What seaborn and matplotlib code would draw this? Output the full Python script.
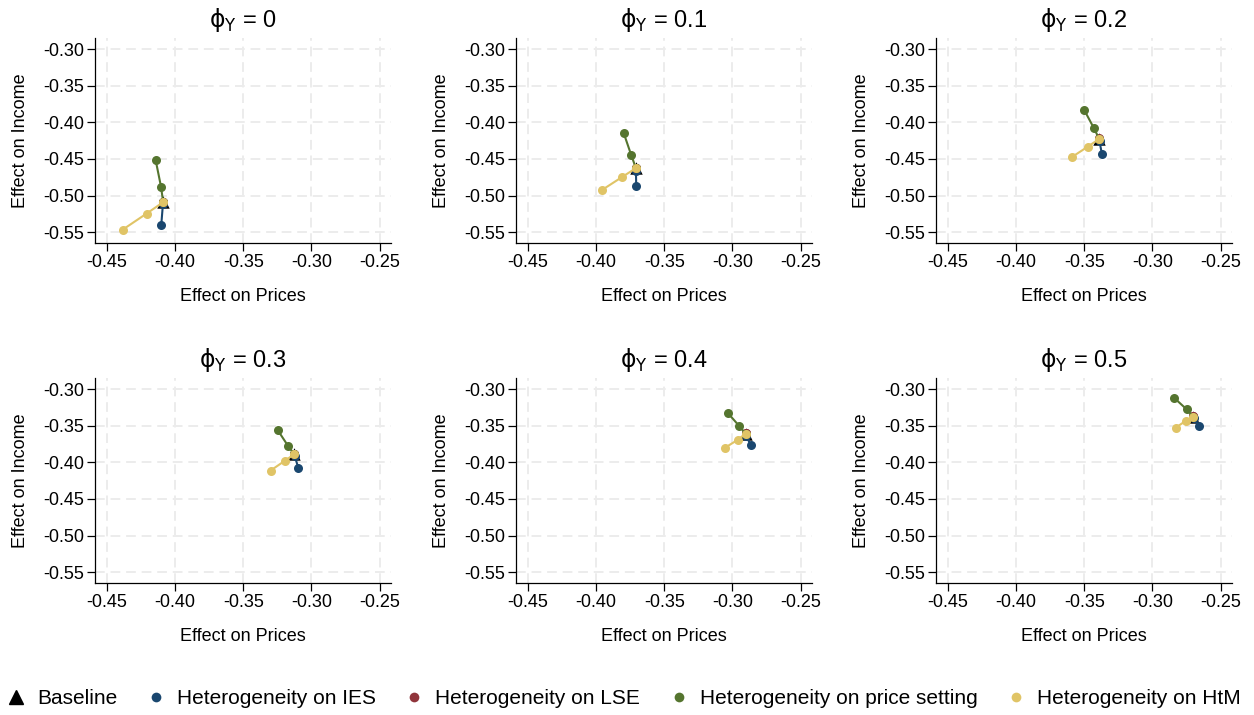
import numpy as np
import pandas as pd
import matplotlib
matplotlib.use("Agg")
import matplotlib.pyplot as plt
from matplotlib.lines import Line2D
import seaborn as sns

# ---------------- data ----------------
phi_values = ["0", "0.1", "0.2", "0.3", "0.4", "0.5"]

baseline_x = [-0.4086, -0.3707, -0.3390, -0.3127, -0.2904, -0.2702]
baseline_y = [-0.5089, -0.4625, -0.4226, -0.3890, -0.3609, -0.3377]

# each heterogeneity series: two further points per panel (after the baseline)
ies_x = [[-0.4088, -0.4100], [-0.3707, -0.3705], [-0.3388, -0.3370],
         [-0.3122, -0.3097], [-0.2900, -0.2868], [-0.2698, -0.2660]]
ies_y = [[-0.5120, -0.5398], [-0.4660, -0.4866], [-0.4260, -0.4435],
         [-0.3920, -0.4072], [-0.3635, -0.3759], [-0.3400, -0.3500]]

lse_x = [[-0.4086, -0.4086], [-0.3707, -0.3707], [-0.3390, -0.3390],
         [-0.3127, -0.3127], [-0.2904, -0.2904], [-0.2702, -0.2702]]
lse_y = [[-0.5085, -0.5082], [-0.4621, -0.4618], [-0.4222, -0.4219],
         [-0.3886, -0.3883], [-0.3605, -0.3602], [-0.3373, -0.3370]]

ps_x = [[-0.4102, -0.4141], [-0.3742, -0.3797], [-0.3429, -0.3500],
        [-0.3173, -0.3248], [-0.2951, -0.3036], [-0.2750, -0.2843]]
ps_y = [[-0.4876, -0.4516], [-0.4444, -0.4144], [-0.4080, -0.3831],
        [-0.3772, -0.3559], [-0.3504, -0.3323], [-0.3277, -0.3118]]

htm_x = [[-0.4207, -0.4381], [-0.3810, -0.3954], [-0.3473, -0.3592],
         [-0.3197, -0.3300], [-0.2963, -0.3054], [-0.2755, -0.2829]]
htm_y = [[-0.5244, -0.5462], [-0.4748, -0.4921], [-0.4331, -0.4476],
         [-0.3981, -0.4113], [-0.3695, -0.3800], [-0.3432, -0.3527]]

series_names = ["Heterogeneity on IES", "Heterogeneity on LSE",
                "Heterogeneity on price setting", "Heterogeneity on HtM"]
series_x = [ies_x, lse_x, ps_x, htm_x]
series_y = [ies_y, lse_y, ps_y, htm_y]
series_colors = ["#1a476f", "#90353b", "#55752f", "#e0c466"]

x_ticks = [-0.45, -0.40, -0.35, -0.30, -0.25]
y_ticks = [-0.30, -0.35, -0.40, -0.45, -0.50, -0.55]

# ---------------- build long table ----------------
rows = []
for p in range(len(phi_values)):
    for name, sx, sy in zip(series_names, series_x, series_y):
        rows.append(dict(panel=p, series=name, order=0, x=baseline_x[p], y=baseline_y[p]))
        for k in range(len(sx[p])):
            rows.append(dict(panel=p, series=name, order=k + 1, x=sx[p][k], y=sy[p][k]))
df = pd.DataFrame(rows)
base_df = pd.DataFrame(dict(panel=range(len(phi_values)), x=baseline_x, y=baseline_y))

# ---------------- style ----------------
sns.set_theme(style="white")
plt.rcParams["font.family"] = ["Liberation Sans", "DejaVu Sans"]
plt.rcParams["mathtext.fontset"] = "custom"
plt.rcParams["mathtext.rm"] = "DejaVu Sans"
plt.rcParams["mathtext.it"] = "DejaVu Sans:italic"
for key in ["text.color", "axes.labelcolor", "xtick.color", "ytick.color"]:
    plt.rcParams[key] = "black"

W, H = 1254, 715
fig = plt.figure(figsize=(W / 100, H / 100), dpi=100)
fig.patch.set_facecolor("white")

col_left = [95.3, 516.3, 936.3]
row_top = [38.3, 378.3]
ax_w, ax_h = 295.4, 205.0

palette = dict(zip(series_names, series_colors))

for p in range(len(phi_values)):
    r, c = divmod(p, 3)
    left = col_left[c]
    top = row_top[r]
    ax = fig.add_axes([left / W, 1 - (top + ax_h) / H, ax_w / W, ax_h / H])
    ax.set_facecolor("white")

    sns.scatterplot(data=base_df[base_df.panel == p], x="x", y="y", marker="^",
                    color="black", s=80, linewidth=0, ax=ax, zorder=2, legend=False)
    for name in series_names:
        s = df[(df.panel == p) & (df.series == name)].sort_values("order")
        sns.lineplot(data=s, x="x", y="y", sort=False, estimator=None,
                     color=palette[name], marker="o", markersize=6.5,
                     markeredgewidth=0, linewidth=1.5, ax=ax, zorder=3,
                     legend=False)

    ax.set_xlim(-0.4583, -0.242)
    ax.set_ylim(-0.565, -0.2854)
    ax.set_xticks(x_ticks)
    ax.set_yticks(y_ticks)
    ax.set_xticklabels([f"{v:.2f}" for v in x_ticks])
    ax.set_yticklabels([f"{v:.2f}" for v in y_ticks])
    ax.grid(True, color="#ececec", linestyle=(0, (5, 3)), linewidth=1.4)
    ax.set_axisbelow(True)
    for side in ["top", "right"]:
        ax.spines[side].set_visible(False)
    for side in ["left", "bottom"]:
        ax.spines[side].set_color("black")
        ax.spines[side].set_linewidth(0.9)
    ax.tick_params(axis="both", which="both", direction="out", length=5.5,
                   width=0.9, color="black", labelcolor="black", labelsize=13,
                   pad=2.5, bottom=True, left=True)
    ax.set_xlabel("Effect on Prices", fontsize=13, labelpad=12)
    ax.set_ylabel("Effect on Income", fontsize=13, labelpad=10)
    ax.set_title(r"$\mathrm{ϕ_Y}$ = " + phi_values[p], fontsize=17, pad=8)

handles = [Line2D([], [], marker="^", color="black", linestyle="none", markersize=10)]
labels = ["Baseline"]
for name in series_names:
    handles.append(Line2D([], [], marker="o", color=palette[name], linestyle="none",
                          markersize=7, markeredgewidth=0))
    labels.append(name)
fig.legend(handles, labels, loc="center", bbox_to_anchor=(0.497, 1 - 699 / H),
           ncol=5, frameon=False, fontsize=15, handlelength=1.0,
           handletextpad=0.5, columnspacing=1.35, borderaxespad=0)

fig.savefig("out.png", dpi=100, facecolor="white")
